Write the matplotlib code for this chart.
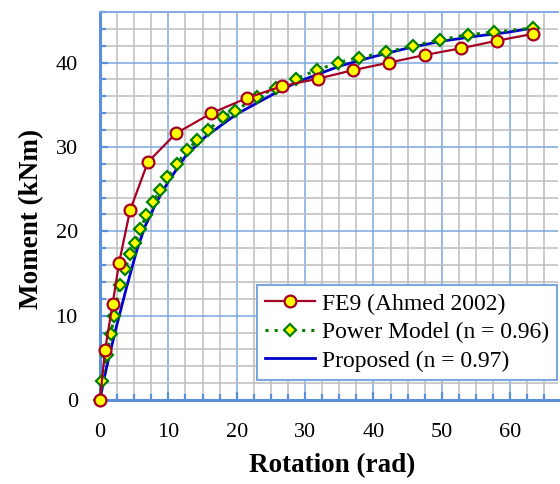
import matplotlib
matplotlib.use("Agg")
import matplotlib.pyplot as plt
from matplotlib.ticker import MultipleLocator

# FE9 (Ahmed 2002)
fe_rot = [0, 0.73, 1.85, 2.8, 4.4, 7.0, 11.1, 16.3, 21.5, 26.6, 31.9, 37.0, 42.3, 47.5, 52.8, 58.1, 63.3]
fe_mom = [0, 5.9, 11.4, 16.3, 22.5, 28.2, 31.6, 34.0, 35.8, 37.2, 38.1, 39.1, 40.0, 40.9, 41.7, 42.6, 43.4]

# Power model (n = 0.96)
pm_rot = [0, 0.24, 0.97, 1.56, 2.1, 2.9, 3.65, 4.4, 5.1, 5.9, 6.8, 7.8, 8.8, 9.8, 11.3, 12.7, 14.2,
          15.8, 18.0, 19.8, 22.9, 25.8, 28.7, 31.7, 34.8, 37.9, 41.8, 45.8, 49.8, 53.8, 57.6, 63.3]
pm_mom = [0, 2.2, 5.3, 7.8, 10.0, 13.6, 15.5, 17.3, 18.6, 20.3, 21.9, 23.5, 24.9, 26.4, 28.0, 29.6, 30.8,
          32.0, 33.5, 34.3, 35.9, 37.0, 38.1, 39.1, 40.0, 40.6, 41.2, 42.0, 42.7, 43.3, 43.6, 44.1]

# Proposed (n = 0.97)
pr_rot = [0, 0.4, 0.97, 2.4, 3.9, 5.4, 6.6, 8.3, 10.0, 12.5, 15.4, 20.0, 26.8, 29.2, 35.1, 40.0,
          44.9, 49.7, 54.7, 59.7, 63.3]
pr_mom = [0, 1.7, 3.9, 8.7, 13.4, 17.8, 20.6, 23.5, 25.9, 28.9, 31.2, 33.9, 36.9, 37.8, 39.6, 40.7,
          41.7, 42.5, 43.1, 43.6, 44.1]

labels = ["FE9 (Ahmed 2002)", "Power Model (n = 0.96)", "Proposed (n = 0.97)"]
x_label = "Rotation (rad)"
y_label = "Moment (kNm)"

plt.rcParams['font.family'] = ['Liberation Serif', 'DejaVu Serif']

fig = plt.figure(figsize=(5.6, 4.84), dpi=100)
ax = fig.add_axes([100/560, 1-400/484, 458/560, 388/484])

major_blue = '#7BA7E1'
spine_blue = '#5B8FD9'
ax.set_xlim(0, 67)
ax.set_ylim(0, 46)
ax.xaxis.set_major_locator(MultipleLocator(10))
ax.xaxis.set_minor_locator(MultipleLocator(2.5))
ax.yaxis.set_major_locator(MultipleLocator(10))
ax.yaxis.set_minor_locator(MultipleLocator(2))
ax.grid(which='minor', color='#BDBDBD', lw=1.1, zorder=0)
ax.grid(which='major', color=major_blue, lw=1.1, zorder=0)
ax.set_axisbelow(True)

ax.spines['right'].set_visible(False)
ax.spines['top'].set_color(major_blue)
ax.spines['top'].set_linewidth(1.3)
for s in ['left', 'bottom']:
    ax.spines[s].set_color(spine_blue)
    ax.spines[s].set_linewidth(2.2)

ax.tick_params(axis='both', which='both', direction='in', color=spine_blue, width=1.6)
ax.tick_params(axis='both', which='major', length=6, labelsize=16)
ax.tick_params(axis='both', which='minor', length=4)
ax.tick_params(axis='y', which='major', pad=16)
ax.tick_params(axis='x', which='major', pad=16.5)

ax.plot(pr_rot, pr_mom, color='#0000CC', lw=2.0, zorder=3, label=labels[2])
ax.plot(pm_rot, pm_mom, color='#008000', lw=2.2, ls=(0, (1, 2)), marker='D', markersize=6,
        markerfacecolor='#FFFF00', markeredgecolor='#008000', markeredgewidth=1.6,
        zorder=4, clip_on=False, label=labels[1])
ax.plot(fe_rot, fe_mom, color='#A50021', lw=1.6, marker='o', markersize=8.5,
        markerfacecolor='#FFFF00', markeredgecolor='#A50021', markeredgewidth=1.6,
        zorder=5, clip_on=False, label=labels[0])

h, l = ax.get_legend_handles_labels()
order = [2, 1, 0]
leg = ax.legend([h[i] for i in order], [l[i] for i in order], loc='lower right',
                bbox_to_anchor=(0.998, 0.0515), borderaxespad=0, fontsize=17,
                fancybox=False, framealpha=1, edgecolor=major_blue,
                handlelength=2.1, handletextpad=0.3, labelspacing=0.3,
                borderpad=0.35, markerscale=1.0)
leg.get_frame().set_linewidth(1.5)
leg.set_zorder(10)

ax.set_xlabel(x_label, fontsize=19.5, fontweight='bold')
ax.set_ylabel(y_label, fontsize=19.5, fontweight='bold')
ax.xaxis.set_label_coords(232/458, -53/388)
ax.yaxis.set_label_coords(-56/458, 181/388)

fig.savefig('out.png', dpi=100)
